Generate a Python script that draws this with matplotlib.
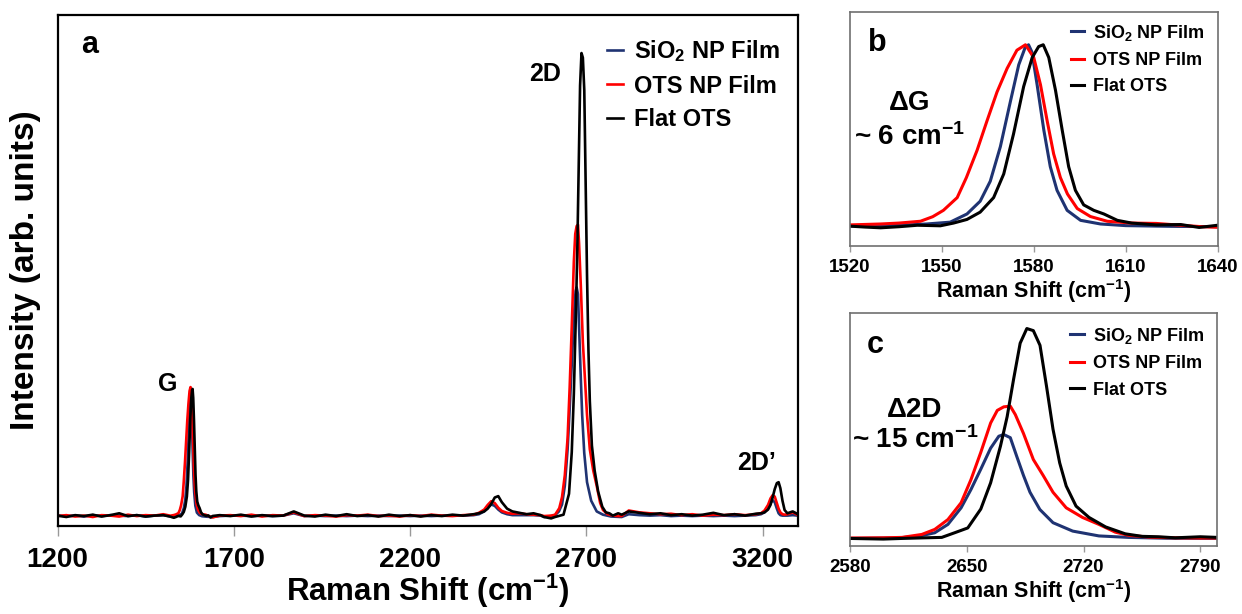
import matplotlib
matplotlib.use("Agg")
import matplotlib.pyplot as plt

plt.rcParams['font.family'] = ['Liberation Sans', 'DejaVu Sans']
plt.rcParams['font.weight'] = 'bold'
plt.rcParams['axes.labelweight'] = 'bold'
plt.rcParams['mathtext.fontset'] = 'custom'
plt.rcParams['mathtext.rm'] = 'Liberation Sans:bold'
plt.rcParams['mathtext.it'] = 'Liberation Sans:bold'
plt.rcParams['mathtext.bf'] = 'Liberation Sans:bold'

# series names / colours
labels = [r'SiO$_2$ NP Film', 'OTS NP Film', 'Flat OTS']
colors = ['#1f3372', '#ff0000', '#000000']

# ---- panel b: G band (normalised) ----
b_blue_x = [1520, 1536, 1545, 1552.7, 1558.2, 1562.5, 1565.8, 1569.1, 1572.4, 1575.1, 1577.2, 1578.3, 1579.4,
            1581.1, 1583.3, 1585.4, 1587.6, 1590.9, 1595.3, 1601.8, 1610, 1625, 1640]
b_blue_y = [0.005, 0.008, 0.015, 0.025, 0.07, 0.14, 0.25, 0.44, 0.69, 0.89, 0.985, 1.0, 0.96,
            0.78, 0.53, 0.33, 0.20, 0.09, 0.035, 0.015, 0.006, 0.002, 0.0]
b_red_x = [1520, 1530, 1536, 1543, 1547, 1550.5, 1555, 1558, 1561.5, 1564.7, 1568, 1571.3, 1574.5, 1577.3,
           1580, 1582.2, 1584.4, 1586.5, 1588.7, 1591, 1594.2, 1598.5, 1604, 1612, 1620, 1628, 1635, 1640]
b_red_y = [0.01, 0.015, 0.02, 0.03, 0.055, 0.09, 0.16, 0.27, 0.42, 0.58, 0.74, 0.87, 0.97, 1.0,
           0.93, 0.78, 0.58, 0.40, 0.27, 0.18, 0.10, 0.056, 0.03, 0.02, 0.018, 0.008, 0.0, -0.003]
b_black_x = [1520, 1525, 1530, 1536, 1542, 1549.5, 1553.8, 1558.2, 1562.5, 1566.9, 1570.2, 1573.4, 1576.7,
             1579.5, 1581.6, 1583.1, 1584.9, 1587.1, 1589.3, 1591.4, 1593.6, 1596.3, 1599.6, 1602.9,
             1607.3, 1612, 1620, 1628, 1634, 1640]
b_black_y = [0.003, -0.002, -0.006, 0.0, 0.008, 0.005, 0.02, 0.04, 0.08, 0.16, 0.29, 0.51, 0.77,
             0.93, 0.99, 1.0, 0.93, 0.75, 0.53, 0.33, 0.20, 0.12, 0.09, 0.07,
             0.035, 0.02, 0.01, 0.012, -0.004, 0.008]

# ---- panel c: 2D band (normalised to Flat OTS) ----
c_blue_x = [2580, 2610, 2622, 2630.8, 2638.7, 2646.6, 2652.5, 2658.4, 2664.3, 2669.2, 2672.2, 2676.1,
            2680, 2684, 2687.9, 2693.8, 2701.7, 2713.5, 2729.2, 2746.9, 2770, 2800]
c_blue_y = [0.0, 0.003, 0.012, 0.027, 0.067, 0.146, 0.233, 0.33, 0.43, 0.487, 0.495, 0.48,
            0.39, 0.30, 0.22, 0.138, 0.075, 0.035, 0.012, 0.005, 0.001, 0.0]
c_red_x = [2580, 2600, 2611.2, 2623, 2630.8, 2638.7, 2646.6, 2652.5, 2658.4, 2664.3, 2668.3, 2672.2,
           2676.1, 2679.1, 2684, 2689.9, 2695.8, 2701.7, 2709.6, 2719.4, 2729.2, 2739, 2746.9, 2760,
           2775, 2790, 2800]
c_red_y = [0.002, 0.003, 0.005, 0.019, 0.043, 0.09, 0.17, 0.28, 0.41, 0.55, 0.61, 0.627,
           0.63, 0.59, 0.50, 0.376, 0.30, 0.22, 0.146, 0.10, 0.067, 0.03, 0.015, 0.006,
           0.003, 0.002, 0.002]
c_black_x = [2580, 2600, 2611, 2625, 2635, 2642.7, 2650.6, 2658.4, 2664.3, 2670.2, 2674.2, 2678.1, 2682,
             2686, 2689.9, 2693.9, 2697.8, 2701.7, 2705.7, 2709.6, 2715.5, 2723.3, 2733.2, 2745, 2755,
             2765, 2775, 2790, 2800]
c_black_y = [0.0, -0.003, 0.0, 0.003, 0.005, 0.027, 0.05, 0.14, 0.265, 0.44, 0.58, 0.76, 0.93,
             1.0, 0.99, 0.92, 0.725, 0.52, 0.36, 0.25, 0.154, 0.10, 0.055, 0.022, 0.01,
             0.008, 0.003, 0.008, 0.005]

# ---- panel a: full spectrum (baseline segments + bands above) ----
g_height = [0.27, 0.28, 0.276]   # G band height in panel a, per series

a_x_left = [1200, 1225, 1250, 1275, 1300, 1325, 1350, 1375, 1400, 1425, 1450, 1475, 1500]
a_blue_left = [0.003, 0.002, 0.003, 0.001, 0.004, 0.002, 0.004, 0.003, 0.002, 0.004, 0.001, 0.003, 0.004]
a_red_left = [0.002, 0.004, 0.001, 0.003, 0.000, 0.004, 0.003, 0.001, 0.005, 0.002, 0.004, 0.003, 0.006]
a_black_left = [0.003, 0.000, 0.004, 0.002, 0.005, 0.001, 0.004, 0.008, 0.002, 0.004, 0.001, 0.003, 0.004]

a_x_mid = [1660, 1690, 1720, 1750, 1780, 1810, 1840, 1870, 1900, 1930, 1960, 1990, 2020, 2050, 2080,
           2110, 2140, 2170, 2200, 2230, 2260, 2290, 2320, 2350, 2380,
           2395, 2410, 2420, 2430, 2440, 2450, 2460, 2475, 2490, 2510, 2530, 2550, 2570]
a_blue_mid = [0.002, 0.003, 0.003, 0.002, 0.003, 0.002, 0.003, 0.008, 0.002, 0.003, 0.002, 0.003, 0.002,
              0.003, 0.002, 0.003, 0.002, 0.003, 0.002, 0.003, 0.002, 0.003, 0.003, 0.003, 0.004,
              0.006, 0.012, 0.020, 0.027, 0.024, 0.016, 0.010, 0.006, 0.004, 0.004, 0.004, 0.004, 0.003]
a_red_mid = [0.003, 0.004, 0.002, 0.005, 0.001, 0.004, 0.003, 0.010, 0.002, 0.004, 0.003, 0.001, 0.004,
             0.003, 0.005, 0.002, 0.003, 0.001, 0.004, 0.002, 0.005, 0.003, 0.002, 0.004, 0.005,
             0.009, 0.016, 0.026, 0.034, 0.030, 0.020, 0.013, 0.009, 0.007, 0.008, 0.006, 0.005, 0.004]
a_black_mid = [0.004, 0.002, 0.005, 0.001, 0.004, 0.002, 0.003, 0.012, 0.003, 0.001, 0.005, 0.002, 0.006,
               0.002, 0.004, 0.001, 0.005, 0.002, 0.004, 0.001, 0.004, 0.002, 0.005, 0.003, 0.006,
               0.008, 0.012, 0.018, 0.028, 0.042, 0.045, 0.032, 0.018, 0.012, 0.009, 0.006, 0.008, 0.004]

a_x_right = [2820, 2850, 2880, 2910, 2940, 2970, 3000, 3030, 3060, 3090, 3120, 3150, 3180,
             3195, 3205, 3215, 3222, 3228, 3234, 3240, 3245, 3250, 3256, 3262, 3270, 3285, 3300]
a_blue_right = [0.006, 0.004, 0.003, 0.004, 0.002, 0.003, 0.002, 0.003, 0.002, 0.003, 0.002, 0.003, 0.004,
                0.006, 0.010, 0.018, 0.030, 0.036, 0.032, 0.018, 0.008, 0.004, 0.003, 0.003, 0.003, 0.004, 0.003]
a_red_right = [0.014, 0.010, 0.008, 0.006, 0.007, 0.004, 0.006, 0.003, 0.005, 0.004, 0.006, 0.004, 0.006,
               0.008, 0.014, 0.026, 0.040, 0.047, 0.044, 0.030, 0.018, 0.010, 0.006, 0.005, 0.006, 0.010, 0.004]
a_black_right = [0.012, 0.009, 0.006, 0.008, 0.004, 0.006, 0.003, 0.005, 0.009, 0.004, 0.006, 0.003, 0.007,
                 0.008, 0.010, 0.016, 0.026, 0.042, 0.060, 0.073, 0.075, 0.062, 0.035, 0.015, 0.008, 0.012, 0.006]

b_x = [b_blue_x, b_red_x, b_black_x]
b_y = [b_blue_y, b_red_y, b_black_y]
c_x = [c_blue_x, c_red_x, c_black_x]
c_y = [c_blue_y, c_red_y, c_black_y]
a_left = [a_blue_left, a_red_left, a_black_left]
a_mid = [a_blue_mid, a_red_mid, a_black_mid]
a_right = [a_blue_right, a_red_right, a_black_right]

fig = plt.figure(figsize=(12.42, 6.14), dpi=100)
W, H = 1242, 614


def add_axes_px(left, top, right, bottom):
    return fig.add_axes([left / W, 1 - bottom / H, (right - left) / W, (bottom - top) / H])


ax_a = add_axes_px(57.5, 15, 798, 526)
ax_b = add_axes_px(850, 12, 1217.5, 246)
ax_c = add_axes_px(850, 313, 1217, 546)

# panel a
for i in range(3):
    xs = a_x_left + b_x[i] + a_x_mid + c_x[i] + a_x_right
    ys = a_left[i] + [v * g_height[i] for v in b_y[i]] + a_mid[i] + c_y[i] + a_right[i]
    ax_a.plot(xs, ys, color=colors[i], lw=1.9, label=labels[i])
ax_a.set_xlim(1200, 3300)
ax_a.set_ylim(-0.0194, 1.082)
ax_a.set_xticks([1200, 1700, 2200, 2700, 3200])
ax_a.set_yticks([])
ax_a.tick_params(axis='x', direction='out', length=7, width=1, color='#999999', pad=8, labelsize=20)
for s in ax_a.spines.values():
    s.set_linewidth(1.6)
    s.set_color('black')
ax_a.set_xlabel('Raman Shift (cm$^{-1}$)', fontsize=22.5, labelpad=-1)
ax_a.set_ylabel('Intensity (arb. units)', fontsize=24, labelpad=12)
ax_a.text(0.044, 0.941, 'a', transform=ax_a.transAxes, fontsize=22, ha='center', va='center')
ax_a.text(1512, 0.287, 'G', fontsize=18, ha='center', va='center')
ax_a.text(2582, 0.955, '2D', fontsize=18, ha='center', va='center')
ax_a.text(3183, 0.116, '2D\u2019', fontsize=18, ha='center', va='center')
ax_a.legend(loc='upper left', bbox_to_anchor=(0.742, 0.955), frameon=False, fontsize=17,
            handlelength=0.7, handletextpad=0.45, labelspacing=0.45, borderpad=0, borderaxespad=0)

# panels b and c
for ax, xs_all, ys_all in [(ax_b, b_x, b_y), (ax_c, c_x, c_y)]:
    for i in range(3):
        ax.plot(xs_all[i], ys_all[i], color=colors[i], lw=2.2, label=labels[i])
    ax.set_yticks([])
    ax.tick_params(axis='x', direction='out', length=4, width=1, color='#999999', pad=5, labelsize=13.5)
    for s in ax.spines.values():
        s.set_linewidth(1.2)
        s.set_color('#707070')
    ax.set_xlabel('Raman Shift (cm$^{-1}$)', fontsize=15.5, labelpad=1)

ax_b.legend(loc='upper left', bbox_to_anchor=(0.6, 0.955), frameon=False, fontsize=13,
            handlelength=0.75, handletextpad=0.5, labelspacing=0.52, borderpad=0, borderaxespad=0)
ax_c.legend(loc='upper left', bbox_to_anchor=(0.6, 0.945), frameon=False, fontsize=13,
            handlelength=0.75, handletextpad=0.5, labelspacing=0.52, borderpad=0, borderaxespad=0)

ax_b.set_xlim(1520, 1640)
ax_b.set_ylim(-0.106, 1.18)
ax_b.set_xticks([1520, 1550, 1580, 1610, 1640])
ax_b.text(0.073, 0.866, 'b', transform=ax_b.transAxes, fontsize=22, ha='center', va='center')
ax_b.text(0.163, 0.611, '\u0394G', transform=ax_b.transAxes, fontsize=20, ha='center', va='center')
ax_b.text(0.163, 0.466, '~ 6 cm$^{-1}$', transform=ax_b.transAxes, fontsize=20, ha='center', va='center')

ax_c.set_xlim(2580, 2800)
ax_c.set_ylim(-0.036, 1.074)
ax_c.set_xticks([2580, 2650, 2720, 2790])
ax_c.text(0.068, 0.863, 'c', transform=ax_c.transAxes, fontsize=22, ha='center', va='center')
ax_c.text(0.177, 0.584, '\u03942D', transform=ax_c.transAxes, fontsize=20, ha='center', va='center')
ax_c.text(0.177, 0.455, '~ 15 cm$^{-1}$', transform=ax_c.transAxes, fontsize=20, ha='center', va='center')

fig.savefig('out.png', dpi=100)
